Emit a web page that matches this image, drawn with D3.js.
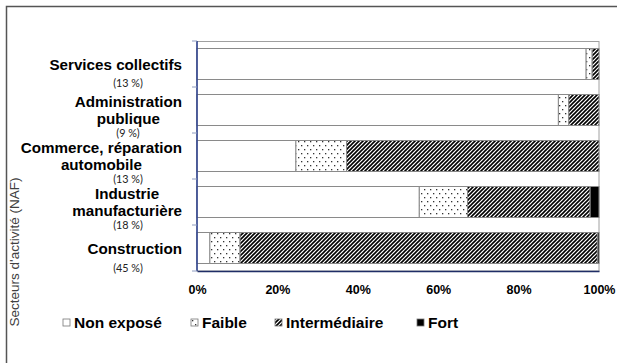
<!DOCTYPE html>
<html>
<head>
<meta charset="utf-8">
<script src="https://cdn.jsdelivr.net/npm/d3@7"></script>
<style>
  html, body { margin: 0; padding: 0; background: #fff; }
  svg { display: block; }
</style>
</head>
<body>
<svg id="chart" width="617" height="363"></svg>
<script>
// Sectors (NAF), drawn top to bottom
const categories = [
  ["Services collectifs"],
  ["Administration", "publique"],
  ["Commerce, réparation", "automobile"],
  ["Industrie", "manufacturière"],
  ["Construction"]
];
const sectorShares = ["(13 %)", "(9 %)", "(13 %)", "(18 %)", "(45 %)"];

// Exposure level shares, in %
const seriesNames = ["Non exposé", "Faible", "Intermédiaire", "Fort"];
const nonExpose     = [96.8, 89.9, 24.6, 55.3, 3.2];
const faible        = [1.5, 2.6, 12.6, 12.0, 7.5];
const intermediaire = [1.7, 7.5, 62.8, 30.5, 88.9];
const fort          = [0, 0, 0, 2.2, 0.4];

const xTicks = [0, 20, 40, 60, 80, 100];
const yTitle = "Secteurs d'activité (NAF)";

const svg = d3.select("#chart");
const FONT = "'Liberation Sans', Arial, sans-serif";

// fill patterns
const defs = svg.append("defs");
const dots = defs.append("pattern").attr("id", "pat-faible")
  .attr("patternUnits", "userSpaceOnUse").attr("width", 6).attr("height", 8);
dots.append("rect").attr("width", 6).attr("height", 8).attr("fill", "#fff");
dots.append("rect").attr("x", 1).attr("y", 1).attr("width", 1.3).attr("height", 1.3).attr("fill", "#333");
dots.append("rect").attr("x", 4).attr("y", 5).attr("width", 1.3).attr("height", 1.3).attr("fill", "#333");

const stripes = defs.append("pattern").attr("id", "pat-inter")
  .attr("patternUnits", "userSpaceOnUse").attr("width", 4).attr("height", 4);
stripes.append("rect").attr("width", 4).attr("height", 4).attr("fill", "#fff");
stripes.append("path")
  .attr("d", "M-1,1 L1,-1 M0,4 L4,0 M3,5 L5,3")
  .attr("stroke", "#000").attr("stroke-width", 1.6);

const fills = ["#ffffff", "url(#pat-faible)", "url(#pat-inter)", "#000000"];

// outer frame
svg.append("rect").attr("x", 6.5).attr("y", 6.5).attr("width", 620).attr("height", 370)
  .attr("fill", "none").attr("stroke", "#555").attr("stroke-width", 1.5);

// scales
const x = d3.scaleLinear().domain([0, 100]).range([197, 599]);
const y = d3.scaleBand().domain(d3.range(categories.length)).range([41, 271])
  .paddingInner(0.326).paddingOuter(0.163);

// plot area border
svg.append("rect").attr("x", 197).attr("y", 41.5).attr("width", 402).attr("height", 229.5)
  .attr("fill", "none").attr("stroke", "#a0a0a0").attr("stroke-width", 1);

// stacked data
const rows = categories.map((c, i) => ({
  i, "Non exposé": nonExpose[i], "Faible": faible[i],
  "Intermédiaire": intermediaire[i], "Fort": fort[i]
}));
const stacked = d3.stack().keys(seriesNames)(rows);

svg.append("g").selectAll("g").data(stacked).join("g")
  .attr("fill", (d, k) => fills[k])
  .selectAll("rect").data(d => d.filter(s => s[1] - s[0] > 0)).join("rect")
  .attr("x", d => x(d[0]))
  .attr("y", d => y(d.data.i))
  .attr("width", d => x(d[1]) - x(d[0]))
  .attr("height", y.bandwidth())
  .attr("stroke", "#8a8a8a").attr("stroke-width", 1);

// y axis (band boundaries as ticks)
const yAxis = svg.append("g");
yAxis.append("line").attr("x1", 197).attr("x2", 197).attr("y1", 41).attr("y2", 271)
  .attr("stroke", "#2a3f8f").attr("stroke-width", 1.5);
const boundaries = d3.range(categories.length + 1).map(k => 41 + k * y.step());
yAxis.selectAll("line.tick").data(boundaries).join("line").attr("class", "tick")
  .attr("x1", 192).attr("x2", 197).attr("y1", d => d).attr("y2", d => d)
  .attr("stroke", "#8e9cc0").attr("stroke-width", 1);

// x axis
const xAxis = svg.append("g").attr("transform", "translate(0,271)")
  .call(d3.axisBottom(x).tickValues(xTicks).tickSize(0).tickPadding(14)
    .tickFormat(d => d + "%"));
xAxis.select(".domain").attr("stroke", "#1f2d66").attr("stroke-width", 1.5);
xAxis.selectAll("text").attr("font-family", FONT).attr("font-weight", "bold")
  .attr("font-size", "12.5px").attr("fill", "#000");

// category labels: centred lines, right-aligned block
const lineH = 16.5;
const labelBoxes = categories.map((lines, i) => {
  const cy = y(i) + y.bandwidth() / 2;
  const t = svg.append("text").attr("font-family", FONT).attr("font-weight", "bold")
    .attr("font-size", "15.2px").attr("text-anchor", "middle").attr("fill", "#000");
  const first = cy + 5.5 - (lines.length - 1) * lineH / 2;
  lines.forEach((ln, j) => t.append("tspan").attr("x", 0).attr("y", first + j * lineH).text(ln));
  const w = d3.max(t.selectAll("tspan").nodes(), n => n.getComputedTextLength());
  t.selectAll("tspan").attr("x", 182 - w / 2);
  return t.node().getBBox();
});

// sector share of workforce, set in the gap below each label
const shares = svg.append("g").selectAll("text").data(sectorShares).join("text")
  .attr("x", 128).attr("y", 0)
  .attr("text-anchor", "middle").attr("font-family", "Lato, 'Open Sans', sans-serif")
  .attr("font-size", "10.8px").attr("fill", "#222").text(d => d);
shares.each(function (d, i) {
  const b = this.getBBox();
  const top = labelBoxes[i].y + labelBoxes[i].height;
  const bottom = i + 1 < labelBoxes.length
    ? labelBoxes[i + 1].y
    : y(i) + y.bandwidth() / 2 + 30;
  const target = Math.min((top + bottom) / 2, y(i) + y.bandwidth() / 2 + 22);
  d3.select(this).attr("y", target - (b.y + b.height / 2));
});

// y title
svg.append("text").attr("transform", "translate(19,252) rotate(-90)")
  .attr("text-anchor", "middle").attr("font-family", FONT).attr("font-size", "13.5px")
  .attr("fill", "#404040").text(yTitle);

// legend
const legendX = [63, 191, 275, 417];
const lg = svg.append("g").selectAll("g").data(seriesNames).join("g")
  .attr("transform", (d, k) => `translate(${legendX[k]},319)`);
lg.append("rect").attr("width", 7).attr("height", 7)
  .attr("fill", (d, k) => fills[k]).attr("stroke", "#777").attr("stroke-width", 0.8);
lg.append("text").attr("x", 11).attr("y", 9).attr("font-family", FONT)
  .attr("font-weight", "bold").attr("font-size", "15.5px").attr("fill", "#000").text(d => d);
</script>
</body>
</html>
